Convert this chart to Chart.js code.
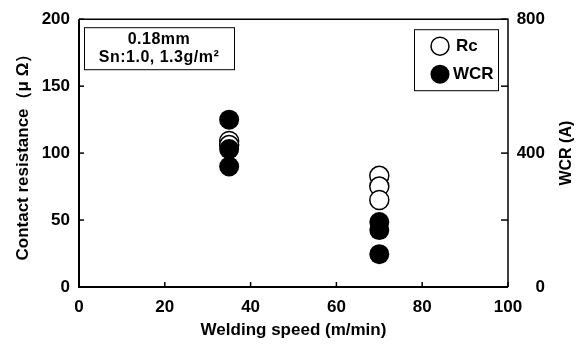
<!DOCTYPE html>
<html><head><meta charset="utf-8">
<script src="https://cdn.jsdelivr.net/npm/chart.js@4.4.0/dist/chart.umd.min.js"></script>
<style>html,body{margin:0;padding:0;background:#fff;}#wrap{width:580px;height:347px;position:relative;}</style>
</head><body><div id="wrap"><canvas id="c" width="580" height="347"></canvas></div>
<script>
const rcSpeed = [35, 35, 70, 70, 70];
const rcValues = [109, 106, 83, 75, 65];
const wcrSpeed = [35, 35, 35, 70, 70, 70];
const wcrValues = [500, 412, 360, 194, 170, 98];
const xTicks = [0, 20, 40, 60, 80, 100];
const leftTicks = [0, 50, 100, 150, 200];
const rightTicks = [0, 200, 400, 600, 800];
const rightLabelled = [0, 400, 800];
const legendLabels = ['Rc', 'WCR'];
const noteLines = ['0.18mm', 'Sn:1.0, 1.3g/m\u00B2'];
const rightTitle = 'WCR (A)';

const FONT = '"Liberation Sans", Arial, sans-serif';

const framePlugin = {
  id: 'frame',
  afterDraw(chart) {
    const ctx = chart.ctx, a = chart.chartArea;
    ctx.save();
    ctx.strokeStyle = '#000';
    ctx.lineWidth = 1.5;
    ctx.beginPath();
    ctx.moveTo(a.left, a.top); ctx.lineTo(a.right, a.top); ctx.lineTo(a.right, a.bottom);
    ctx.stroke();
    ctx.lineWidth = 2;
    ctx.beginPath();
    ctx.moveTo(a.left, a.top); ctx.lineTo(a.left, a.bottom); ctx.lineTo(a.right, a.bottom);
    ctx.stroke();
    // inward ticks
    ctx.lineWidth = 1.5;
    const L = 5;
    chart.scales.x.ticks.forEach(t => {
      const px = chart.scales.x.getPixelForValue(t.value);
      ctx.beginPath(); ctx.moveTo(px, a.bottom); ctx.lineTo(px, a.bottom - L); ctx.stroke();
    });
    chart.scales.y.ticks.forEach(t => {
      const py = chart.scales.y.getPixelForValue(t.value);
      ctx.beginPath(); ctx.moveTo(a.left, py); ctx.lineTo(a.left + L, py); ctx.stroke();
    });
    chart.scales.y2.ticks.forEach(t => {
      const py = chart.scales.y2.getPixelForValue(t.value);
      ctx.beginPath(); ctx.moveTo(a.right, py); ctx.lineTo(a.right - L - 2, py); ctx.stroke();
    });
    // note box
    ctx.lineWidth = 1;
    const nx = a.left + 5, ny = a.top + 8, nw = 150, nh = 42;
    ctx.strokeRect(nx + 0.5, ny + 0.5, nw, nh);
    ctx.fillStyle = '#000';
    ctx.font = 'bold 16px ' + FONT;
    ctx.textAlign = 'center'; ctx.textBaseline = 'middle';
    ctx.letterSpacing = '0.5px';
    ctx.fillText(noteLines[0], nx + nw / 2, ny + 12);
    ctx.fillText(noteLines[1], nx + nw / 2, ny + 30);
    ctx.letterSpacing = '0px';
    // legend box
    const lw = 84, lh = 61, lx = a.right - 10 - lw, ly = a.top + 10;
    ctx.strokeRect(lx + 0.5, ly + 0.5, lw, lh);
    ctx.lineWidth = 1.5;
    ctx.beginPath(); ctx.arc(lx + 26, ly + 17, 9, 0, Math.PI * 2);
    ctx.fillStyle = '#fff'; ctx.fill(); ctx.stroke();
    ctx.beginPath(); ctx.arc(lx + 26, ly + 45, 9.5, 0, Math.PI * 2);
    ctx.fillStyle = '#000'; ctx.fill();
    ctx.font = 'bold 17px ' + FONT;
    ctx.textAlign = 'left';
    ctx.fillText(legendLabels[0], lx + 42, ly + 17);
    ctx.fillText(legendLabels[1], lx + 39, ly + 45);
    // right axis title (reads bottom to top)
    ctx.save();
    ctx.translate(567, (a.top + a.bottom) / 2);
    ctx.rotate(-Math.PI / 2);
    ctx.textAlign = 'center';
    ctx.font = 'bold 16px ' + FONT;
    ctx.fillText(rightTitle, 0, 0);
    ctx.restore();
    ctx.restore();
  }
};

new Chart(document.getElementById('c'), {
  type: 'scatter',
  data: {
    datasets: [
      {
        label: legendLabels[0],
        data: rcSpeed.map((x, i) => ({ x: x, y: rcValues[i] })),
        yAxisID: 'y',
        pointRadius: 9.5,
        pointBackgroundColor: '#fff',
        pointBorderColor: '#000',
        pointBorderWidth: 1.5,
        order: 2
      },
      {
        label: legendLabels[1],
        data: wcrSpeed.map((x, i) => ({ x: x, y: wcrValues[i] })),
        yAxisID: 'y2',
        pointRadius: 10,
        pointBackgroundColor: '#000',
        pointBorderColor: '#000',
        pointBorderWidth: 0,
        order: 1
      }
    ]
  },
  options: {
    responsive: false,
    animation: false,
    events: [],
    layout: { padding: { top: 16, left: 0, right: 35, bottom: 0 } },
    plugins: { legend: { display: false }, tooltip: { enabled: false } },
    scales: {
      x: {
        type: 'linear', min: 0, max: 100,
        afterBuildTicks: s => { s.ticks = xTicks.map(v => ({ value: v })); },
        grid: { display: false, drawTicks: false },
        border: { display: false },
        ticks: { color: '#000', font: { family: FONT, size: 17, weight: 'bold' }, padding: 10, maxRotation: 0 },
        title: { display: true, text: 'Welding speed (m/min)', color: '#000', font: { family: FONT, size: 17, weight: 'bold' }, padding: { top: 4, bottom: 6 } },
        afterFit: s => { s.height = 60; }
      },
      y: {
        type: 'linear', position: 'left', min: 0, max: 200,
        afterBuildTicks: s => { s.ticks = leftTicks.map(v => ({ value: v })); },
        grid: { display: false, drawTicks: false },
        border: { display: false },
        ticks: { color: '#000', font: { family: FONT, size: 17, weight: 'bold' }, padding: 9 },
        title: { display: true, text: 'Contact resistance\uFF08\u03BC \u03A9\uFF09', color: '#000', font: { family: FONT, size: 17, weight: 'bold' }, padding: { top: 13, bottom: 4 } },
        afterFit: s => { s.width = 79; }
      },
      y2: {
        type: 'linear', position: 'right', min: 0, max: 800,
        afterBuildTicks: s => { s.ticks = rightTicks.map(v => ({ value: v })); },
        grid: { display: false, drawTicks: false },
        border: { display: false },
        ticks: {
          color: '#000', font: { family: FONT, size: 17, weight: 'bold' }, padding: 8, crossAlign: 'far',
          callback: v => rightLabelled.includes(v) ? String(v) : ''
        },
        title: { display: false },
        afterFit: s => { s.width = 37; }
      }
    }
  },
  plugins: [framePlugin]
});
</script></body></html>
